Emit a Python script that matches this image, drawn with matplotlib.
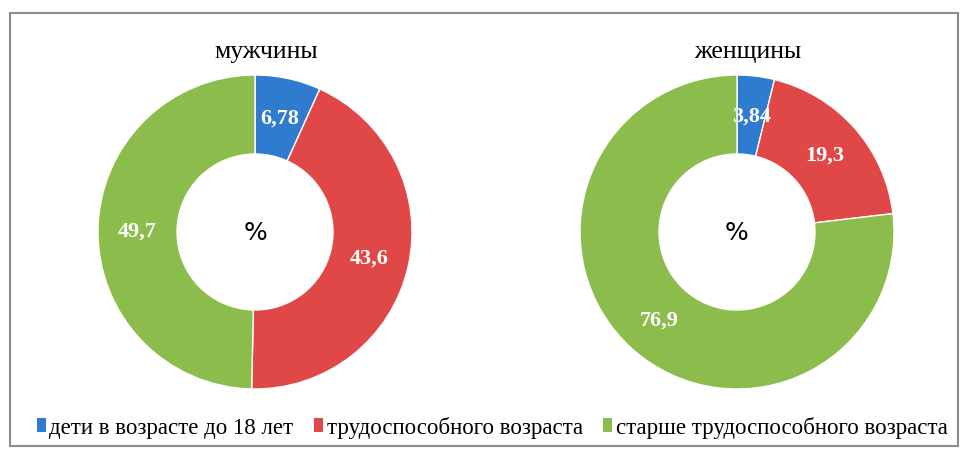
import matplotlib.pyplot as plt
from matplotlib.patches import Rectangle
import numpy as np

# data
groups = ['мужчины', 'женщины']
categories = ['дети в возрасте до 18 лет', 'трудоспособного возраста', 'старше трудоспособного возраста']
men = [6.78, 43.6, 49.7]
women = [3.84, 19.3, 76.9]
value_labels = [['6,78', '43,6', '49,7'], ['3,84', '19,3', '76,9']]
colors = ['#2f7bd0', '#e04848', '#8cbd4c']

W, H = 965, 456
fig = plt.figure(figsize=(W / 100, H / 100), dpi=100)
ax = fig.add_axes([0, 0, 1, 1])
ax.set_xlim(0, W)
ax.set_ylim(0, H)
ax.set_aspect('equal')
ax.axis('off')

serif = ['Liberation Serif', 'DejaVu Serif']
R_out, ring = 157, 79
centers = [(255, H - 233), (737, H - 233)]

for k, vals in enumerate([men, women]):
    cx, cy = centers[k]
    ax.pie(vals, startangle=90, counterclock=False, radius=R_out, center=(cx, cy),
           colors=colors, wedgeprops=dict(width=ring, edgecolor='white', linewidth=1))
    tot = sum(vals)
    cum = np.cumsum([0] + vals[:-1])
    r_lab = R_out - ring / 2
    for i, v in enumerate(vals):
        ang = np.deg2rad(90 - 360 * (cum[i] + v / 2) / tot)
        ax.text(cx + r_lab * np.cos(ang), cy + r_lab * np.sin(ang), value_labels[k][i],
                ha='center', va='center', color='white', fontsize=16, fontweight='bold',
                family=serif)
    ax.text(cx, cy, '%', ha='center', va='center', fontsize=18, color='black')
    ax.text(cx + 11, H - 52, groups[k], ha='center', va='center', fontsize=18.5, family=serif)

ax.set_xlim(0, W)
ax.set_ylim(0, H)

# frame
ax.add_patch(Rectangle((10, 9), 948, 433, fill=False, edgecolor='#8c8c8c', linewidth=1.5))

handles = [Rectangle((0, 0), 1, 1, facecolor=c, edgecolor='none') for c in colors]
fig.legend(handles, categories, loc='center', bbox_to_anchor=(0.51, 1 - 428 / H), ncol=3,
           frameon=False, prop={'family': serif, 'size': 16.5},
           handlelength=0.4, handleheight=0.55, handletextpad=0.15, columnspacing=0.9)

fig.savefig('out.png', dpi=100)
